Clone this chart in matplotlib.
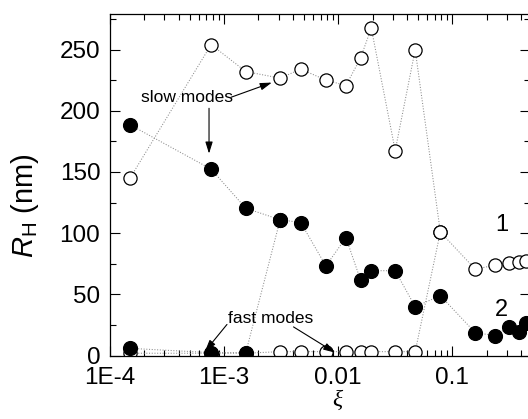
import matplotlib
matplotlib.use("Agg")
import matplotlib.pyplot as plt
from matplotlib.ticker import FixedLocator, FixedFormatter, LogLocator, MultipleLocator, NullFormatter

plt.rcParams['font.family'] = ['Liberation Sans', 'DejaVu Sans']
plt.rcParams['mathtext.fontset'] = 'custom'
plt.rcParams['mathtext.rm'] = 'Liberation Sans'
plt.rcParams['mathtext.it'] = 'Liberation Sans:italic'

# concentrations xi
xi = [1.5e-4, 7.7e-4, 1.55e-3, 3.1e-3, 4.7e-3, 7.8e-3, 0.0117, 0.0157,
      0.0195, 0.0316, 0.0473, 0.0786, 0.159, 0.238, 0.312, 0.387, 0.446]

# sample 1 (open circles): two modes up to xi[10], one mode after
slow_1 = [145, 254, 232, 226.6, 234, 225, 220.6, 243, 267.5, 167.5, 249.8]
fast_1 = [2, 2, 2, 3.3, 3.3, 3.3, 3.3, 3.3, 3.3, 3.3, 3.3]
single_1 = [101, 70.6, 74, 75.5, 76.8, 77.6]

# sample 2 (filled circles): two modes up to xi[2], one mode after
slow_2 = [188.5, 152.3, 120.4]
fast_2 = [6, 2.5, 2.5]
single_2 = [111, 108.7, 73.3, 96.4, 61.8, 69.4, 69.4, 40, 49, 18.8, 16.4,
            23.7, 19.6, 26.7]

tick_vals = [1e-4, 1e-3, 1e-2, 1e-1]
tick_labels = ['1E-4', '1E-3', '0.01', '0.1']

fig = plt.figure(figsize=(5.28, 4.19), dpi=100)
ax = fig.add_axes([0.2083, 0.1511, 0.7955, 0.8155])

line_kw = dict(color='#8c8c8c', lw=0.75, linestyle=(0, (1, 1.6)))
open_kw = dict(marker='o', ms=9.5, mfc='white', mec='black', mew=0.9)
fill_kw = dict(marker='o', ms=10, mfc='black', mec='black', mew=0.9)

n1 = len(slow_1)
ax.plot(xi, slow_1 + single_1, **line_kw, **open_kw, zorder=2)
ax.plot(xi[:n1 + 1], fast_1 + single_1[:1], **line_kw, **open_kw, zorder=2)

n2 = len(slow_2)
ax.plot(xi, slow_2 + single_2, **line_kw, **fill_kw, zorder=3)
ax.plot(xi[:n2 + 1], fast_2 + single_2[:1], **line_kw, **fill_kw, zorder=3)

ax.set_xscale('log')
ax.set_xlim(1e-4, 0.48)
ax.set_ylim(0, 279)

ax.xaxis.set_major_locator(FixedLocator(tick_vals))
ax.xaxis.set_major_formatter(FixedFormatter(tick_labels))
ax.xaxis.set_minor_locator(LogLocator(base=10, subs=range(2, 10), numticks=20))
ax.xaxis.set_minor_formatter(NullFormatter())
ax.yaxis.set_major_locator(MultipleLocator(50))
ax.yaxis.set_minor_locator(MultipleLocator(25))

ax.tick_params(which='both', direction='in', top=True, right=True,
               labelsize=17.5, width=0.8)
ax.tick_params(axis='x', pad=8)
ax.tick_params(axis='y', pad=7)
ax.tick_params(which='major', length=7)
ax.tick_params(which='minor', length=4)
for s in ax.spines.values():
    s.set_linewidth(0.9)

ax.set_ylabel(r'$R_{\mathrm{H}}$ (nm)', fontsize=21)
ax.yaxis.set_label_coords(-0.165, 0.44)
ax.set_xlabel('ξ', fontsize=17, family='Liberation Serif', style='italic')
ax.xaxis.set_label_coords(0.54, -0.10)

ax.text(0.27, 107, '1', fontsize=17, ha='center', va='center')
ax.text(0.27, 37, '2', fontsize=17, ha='center', va='center')

arrow_kw = dict(arrowstyle='-|>,head_length=0.7,head_width=0.22',
                color='black', lw=0.8, shrinkA=0, shrinkB=0)
ax.text(4.73e-4, 211, 'slow modes', fontsize=12.5, ha='center', va='center')
ax.annotate('', xy=(2.62e-3, 223), xytext=(1.15e-3, 211), arrowprops=arrow_kw)
ax.annotate('', xy=(7.38e-4, 165), xytext=(7.38e-4, 202), arrowprops=arrow_kw)

ax.text(2.57e-3, 30.5, 'fast modes', fontsize=12.5, ha='center', va='center')
ax.annotate('', xy=(6.8e-4, 3.5), xytext=(1.06e-3, 25.5), arrowprops=arrow_kw)
ax.annotate('', xy=(9.4e-3, 2.5), xytext=(4.06e-3, 23.5), arrowprops=arrow_kw)

fig.savefig('out.png', dpi=100)
